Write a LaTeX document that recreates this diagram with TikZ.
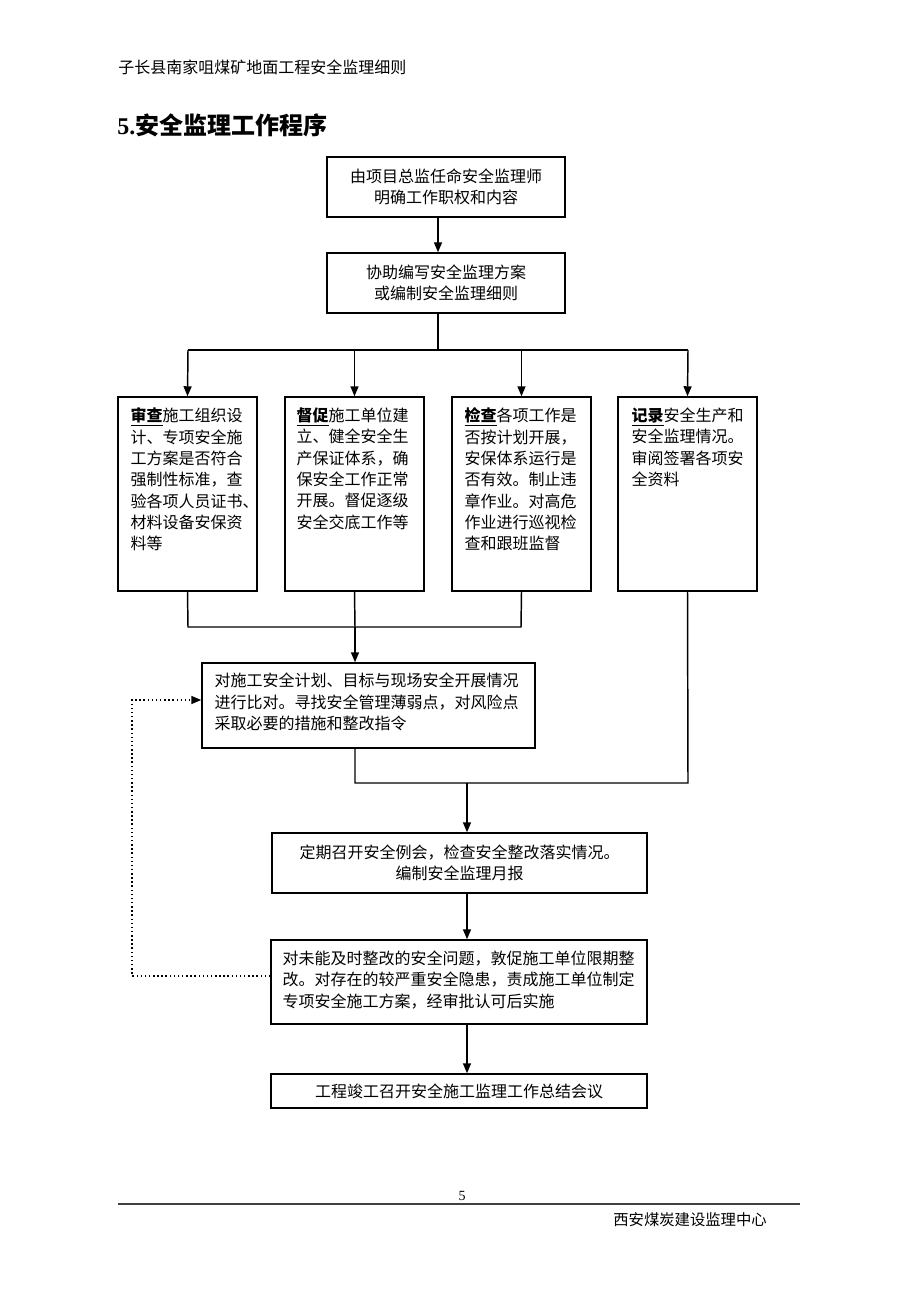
\documentclass[tikz,border=0pt]{standalone}
\usepackage{fontspec}
\setmainfont{Noto Sans CJK SC}
\newfontfamily\tms{Liberation Serif}
\usetikzlibrary{arrows.meta,fit,calc}
\tikzset{
  box/.style={draw=black, line width=1.1pt, inner sep=0pt, fill=none},
  txt/.style={inner sep=0pt, font=\fontsize{12pt}{16pt}\selectfont},
  ltxt/.style={txt, align=left, anchor=north west},
  ctxt/.style={txt, align=center},
  line/.style={line width=1.1pt},
  arr/.style={line width=1.1pt, -{Triangle[length=7.5pt,width=6pt]}},
  dotarr/.style={line width=1.1pt, dotted, -{Triangle[length=7.5pt,width=6pt]}},
}
\newcommand{\kwd}[1]{\underline{\bfseries #1}}
\begin{document}
\begin{tikzpicture}[x=0.75pt,y=-0.75pt]
\useasboundingbox (0,0) rectangle (920,1301);

% header and title
\node[txt, anchor=west] (hdr) at (118,67) {子长县南家咀煤矿地面工程安全监理细则};
\node[inner sep=0pt, anchor=west, font=\fontsize{18pt}{20pt}\selectfont\bfseries] (ttl) at (117,125) {{\tms 5.}安全监理工作程序};

% boxes
\node[box, fit={(327,157) (565,217)}] (b1) {};
\node[ctxt] (t1) at (b1.center) {由项目总监任命安全监理师\\明确工作职权和内容};
\node[box, fit={(327,253) (565,313)}] (b2) {};
\node[ctxt] (t2) at (b2.center) {协助编写安全监理方案\\或编制安全监理细则};

\node[box, fit={(118,397) (257,591)}] (A) {};
\node[box, fit={(285,397) (424,591)}] (B) {};
\node[box, fit={(452,397) (591,591)}] (C) {};
\node[box, fit={(618,397) (757,591)}] (D) {};
\node[ltxt] (tA) at ([xshift=9.75pt,yshift=-8.5pt]A.north west) {\kwd{审查}施工组织设\\计、专项安全施\\工方案是否符合\\强制性标准，查\\验各项人员证书、\\材料设备安保资\\料等};
\node[ltxt] (tB) at ([xshift=9pt,yshift=-8.5pt]B.north west) {\kwd{督促}施工单位建\\立、健全安全生\\产保证体系，确\\保安全工作正常\\开展。督促逐级\\安全交底工作等};
\node[ltxt] (tC) at ([xshift=9.75pt,yshift=-8.5pt]C.north west) {\kwd{检查}各项工作是\\否按计划开展，\\安保体系运行是\\否有效。制止违\\章作业。对高危\\作业进行巡视检\\查和跟班监督};
\node[ltxt] (tD) at ([xshift=10.5pt,yshift=-8.5pt]D.north west) {\kwd{记录}安全生产和\\安全监理情况。\\审阅签署各项安\\全资料};

\node[box, fit={(202,663) (535,748)}] (E) {};
\node[ltxt] (tE) at ([xshift=9.75pt,yshift=-8pt]E.north west) {对施工安全计划、目标与现场安全开展情况\\进行比对。寻找安全管理薄弱点，对风险点\\采取必要的措施和整改指令};

\node[box, fit={(272,833) (647,893)}] (F) {};
\node[ctxt] (tF) at (F.center) {定期召开安全例会，检查安全整改落实情况。\\编制安全监理月报};

\node[box, fit={(271,940) (647,1024)}] (G) {};
\node[ltxt] (tG) at ([xshift=9pt,yshift=-8.5pt]G.north west) {对未能及时整改的安全问题，敦促施工单位限期整\\改。对存在的较严重安全隐患，责成施工单位制定\\专项安全施工方案，经审批认可后实施};

\node[box, fit={(271,1074) (647,1108)}] (H) {};
\node[ctxt] (tH) at (H.center) {工程竣工召开安全施工监理工作总结会议};

% helper coordinates
\coordinate (x438) at (438,0);
\coordinate (br) at (438,350);
\coordinate (bl) at (188,350);
\coordinate (bR) at (688,350);
\coordinate (j1) at (355,627);
\coordinate (j1l) at (188,627);
\coordinate (j1r) at (521,627);
\coordinate (j2) at (467,783);
\coordinate (j2l) at (355,783);
\coordinate (j2r) at (688,783);
\coordinate (d1) at (132,976);
\coordinate (d2) at (132,700);

% connectors
\draw[arr] (x438 |- b1.south) -- (x438 |- b2.north);
\draw[line] (x438 |- b2.south) -- (br);
\draw[line] (bl) -- (bR);
\draw[arr] (bl) -- (A.north);
\draw[arr] (B.north |- br) -- (B.north);
\draw[arr] (C.north |- br) -- (C.north);
\draw[arr] (bR) -- (D.north);

\draw[line] (A.south) -- (j1l) -- (j1r) -- (C.south);
\draw[line] (B.south) -- (j1);
\draw[arr] (j1) -- (j1 |- E.north);

\draw[line] (j2l |- E.south) -- (j2l) -- (j2r) -- (D.south);
\draw[arr] (j2) -- (j2 |- F.north);
\draw[arr] (j2 |- F.south) -- (j2 |- G.north);
\draw[arr] (j2 |- G.south) -- (j2 |- H.north);

\draw[dotarr] (G.west |- d1) -- (d1) -- (d2) -- (E.west |- d2);

% footer
\node[inner sep=0pt, font=\tms\fontsize{10.5pt}{12pt}\selectfont] (pg) at (462,1196) {5};
\coordinate (fl) at (118,1204);
\coordinate (fr) at (800,1204);
\draw[line width=1.4pt, black!75] (fl) -- (fr);
\node[inner sep=0pt, font=\fontsize{11.5pt}{13pt}\selectfont] (ftr) at (690,1220) {西安煤炭建设监理中心};
\end{tikzpicture}
\end{document}
